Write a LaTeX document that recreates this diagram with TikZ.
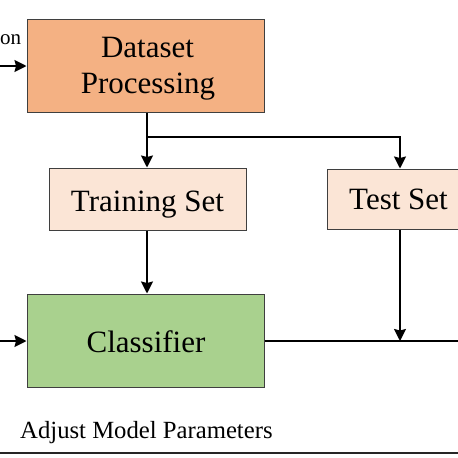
\documentclass[tikz,border=0pt]{standalone}
\usepackage{fontspec}
\setmainfont{Liberation Serif}
\usetikzlibrary{arrows.meta}
\definecolor{orangebox}{HTML}{F4B183}
\definecolor{lightbox}{HTML}{FBE5D6}
\definecolor{greenbox}{HTML}{A9D18E}
\definecolor{edgegray}{HTML}{3F3F3F}
\tikzset{
  box/.style={draw=edgegray, line width=1pt, inner sep=0pt},
  boxtext/.style={anchor=base, inner sep=0pt, text=black, font=\fontsize{31}{36}\selectfont},
  conn/.style={line width=1.8pt, black},
  arr/.style={conn, -{Stealth[length=12pt,width=12pt,inset=1.5pt]}},
}
\begin{document}
\begin{tikzpicture}[x=1pt,y=-1pt]
\useasboundingbox (0,0) rectangle (458,458);
\clip (0,0) rectangle (458,458);
\fill[white] (0,0) rectangle (458,458);
\node[box, fill=orangebox, minimum width=237pt, minimum height=93pt] (ds) at (145.5,65.5) {};
\node[box, fill=lightbox, minimum width=197pt, minimum height=62pt] (tr) at (147.5,199) {};
\node[box, fill=lightbox, minimum width=146pt, minimum height=60pt] (te) at (400,199) {};
\node[box, fill=greenbox, minimum width=237pt, minimum height=93pt] (cl) at (145.5,340.5) {};
\node[boxtext] (dsA) at (147.5,57) {Dataset};
\node[boxtext] (dsB) at (148,93) {Processing};
\node[boxtext] (trT) at (147.5,211) {Training Set};
\node[boxtext] (teT) at (398.5,209) {Test Set};
\node[boxtext] (clT) at (146,352) {Classifier};
\node[anchor=base west, inner sep=0pt, font=\fontsize{21}{25}\selectfont] (ev) at (0,44) {on};
\node[anchor=base west, inner sep=0pt, font=\fontsize{24.7}{28}\selectfont] (adj) at (20,438) {Adjust Model Parameters};
\coordinate (inA) at (0,66);
\coordinate (inB) at (0,341);
\coordinate (br) at (147,137);
\coordinate (brR) at (400,137);
\coordinate (outR) at (460,341);
\coordinate (join) at (400,341);
\coordinate (bl) at (0,453);
\coordinate (brt) at (460,453);
\draw[arr] (inA) -- (ds.west |- inA);
\draw[arr] (ds.south -| br) -- (tr.north -| br);
\draw[arr] (br) -- (brR) -- (te.north);
\draw[arr] (tr.south -| br) -- (cl.north -| br);
\draw[arr] (inB) -- (cl.west |- inB);
\draw[conn] (cl.east |- outR) -- (outR);
\draw[arr] (te.south) -- (join);
\draw[line width=2pt, black!85] (bl) -- (brt);
\end{tikzpicture}
\end{document}
